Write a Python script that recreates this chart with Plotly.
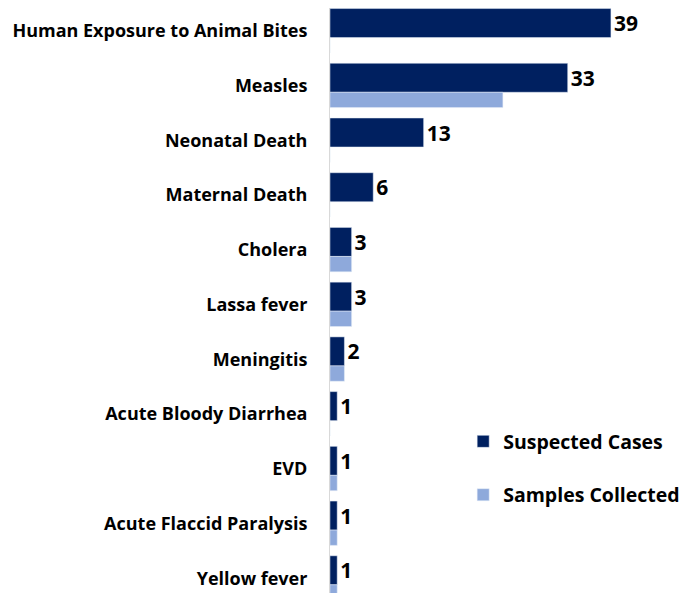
import plotly.graph_objects as go

categories = ["Human Exposure to Animal Bites", "Measles", "Neonatal Death", "Maternal Death",
              "Cholera", "Lassa fever", "Meningitis", "Acute Bloody Diarrhea", "EVD",
              "Acute Flaccid Paralysis", "Yellow fever"]
suspected = [39, 33, 13, 6, 3, 3, 2, 1, 1, 1, 1]
samples = [0, 24, 0, 0, 3, 3, 2, 0, 1, 1, 1]

dark = "#002060"
light = "#8EA9DB"

fig = go.Figure()
fig.add_trace(go.Bar(
    y=categories, x=suspected, orientation="h", name="Suspected Cases",
    marker=dict(color=dark), offset=-0.41, width=0.53,
    text=[str(v) for v in suspected], textposition="outside",
    textfont=dict(family="Open Sans", size=21, color="#000000", weight="bold"),
    cliponaxis=False, legendgroup="a",
))
fig.add_trace(go.Bar(
    y=categories, x=samples, orientation="h", name="Samples Collected",
    marker=dict(color=light), offset=0.12, width=0.28, legendgroup="b",
))

fig.update_layout(
    width=680, height=585,
    margin=dict(l=322, r=0, t=0, b=0),
    plot_bgcolor="white", paper_bgcolor="white",
    barmode="overlay",
    font=dict(family="Open Sans", color="#000000"),
    xaxis=dict(range=[0, 49.7], visible=False),
    yaxis=dict(
        range=[10.27, -0.42], showline=True, linecolor="#d9d9d9", linewidth=1,
        ticks="", showgrid=False, ticklabelstandoff=18,
        tickfont=dict(family="Open Sans", size=18, color="#000000", weight="bold"),
    ),
    legend=dict(
        x=0.372, y=0.292, xanchor="left", yanchor="top",
        font=dict(family="Open Sans", size=19.5, color="#000000", weight="bold"),
        tracegroupgap=25, bgcolor="rgba(0,0,0,0)",
    ),
    showlegend=True,
)

fig.write_html("out.html")
